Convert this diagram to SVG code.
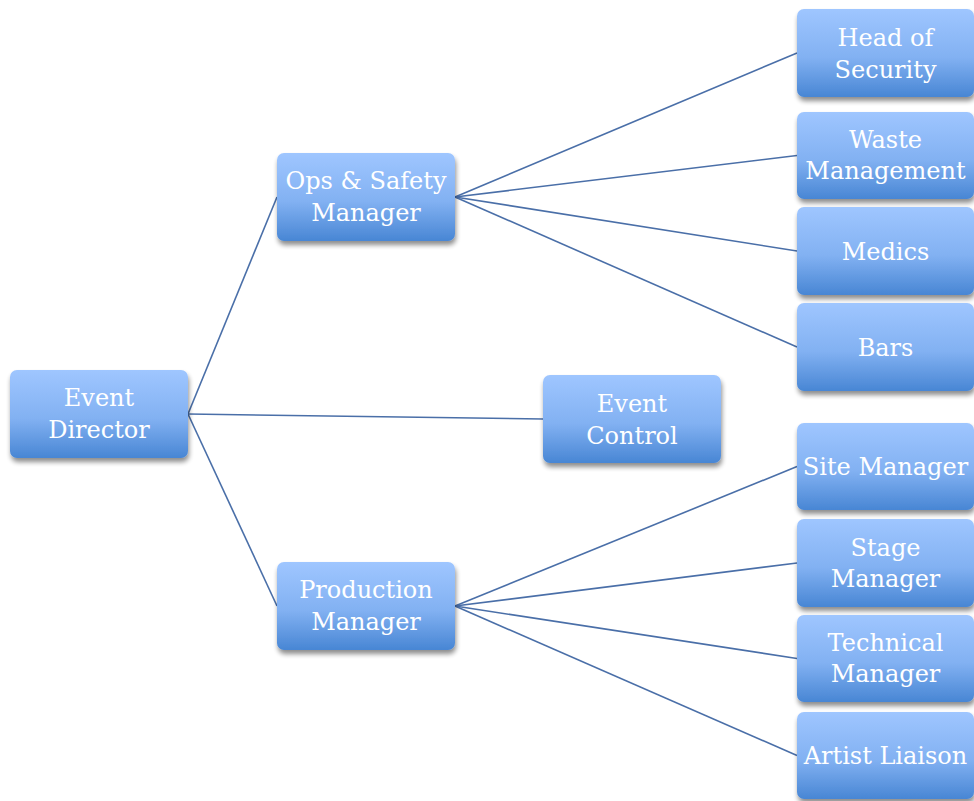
<svg xmlns="http://www.w3.org/2000/svg" width="974" height="801" viewBox="0 0 974 801">
<defs>
<linearGradient id="g" x1="0" y1="0" x2="0" y2="1">
<stop offset="0" stop-color="#9fc6ff"/>
<stop offset="0.55" stop-color="#82b1f2"/>
<stop offset="1" stop-color="#4886d4"/>
</linearGradient>
<filter id="sh" x="-10%" y="-10%" width="125%" height="130%">
<feGaussianBlur in="SourceAlpha" stdDeviation="2.5"/>
<feOffset dx="1" dy="4" result="b"/>
<feComponentTransfer><feFuncA type="linear" slope="0.45"/></feComponentTransfer>
<feMerge><feMergeNode/><feMergeNode in="SourceGraphic"/></feMerge>
</filter>
</defs>
<style>
.box{fill:url(#g);filter:url(#sh)}
.t{font-family:"DejaVu Serif","Liberation Serif",serif;font-size:24px;fill:#ffffff;text-anchor:middle}
.c{stroke:#4a6fa8;stroke-width:1.6;fill:none}
</style>
<rect width="974" height="801" fill="#ffffff"/>
<g id="connectors">
<line class="c" x1="188" y1="414" x2="277" y2="197"/>
<line class="c" x1="188" y1="414" x2="543" y2="419"/>
<line class="c" x1="188" y1="414" x2="277" y2="606"/>
<line class="c" x1="455" y1="197" x2="797" y2="53"/>
<line class="c" x1="455" y1="197" x2="797" y2="155.5"/>
<line class="c" x1="455" y1="197" x2="797" y2="251"/>
<line class="c" x1="455" y1="197" x2="797" y2="347"/>
<line class="c" x1="455" y1="606" x2="797" y2="466.5"/>
<line class="c" x1="455" y1="606" x2="797" y2="563"/>
<line class="c" x1="455" y1="606" x2="797" y2="658.5"/>
<line class="c" x1="455" y1="606" x2="797" y2="755.5"/>
</g>
<g id="event-director"><rect class="box" x="10" y="370" width="178" height="88" rx="7"/><text class="t" x="99" y="406">Event</text><text class="t" x="99" y="438">Director</text></g>
<g id="ops-safety"><rect class="box" x="277" y="153" width="178" height="88" rx="7"/><text class="t" x="366" y="189">Ops &amp; Safety</text><text class="t" x="366" y="221">Manager</text></g>
<g id="production"><rect class="box" x="277" y="562" width="178" height="88" rx="7"/><text class="t" x="366" y="598">Production</text><text class="t" x="366" y="630">Manager</text></g>
<g id="event-control"><rect class="box" x="543" y="375" width="178" height="88" rx="7"/><text class="t" x="632" y="412">Event</text><text class="t" x="632" y="444">Control</text></g>
<g id="head-security"><rect class="box" x="797" y="9" width="177" height="88" rx="7"/><text class="t" x="885.5" y="46">Head of</text><text class="t" x="885.5" y="78">Security</text></g>
<g id="waste"><rect class="box" x="797" y="112" width="177" height="87" rx="7"/><text class="t" x="885.5" y="148">Waste</text><text class="t" x="885.5" y="179">Management</text></g>
<g id="medics"><rect class="box" x="797" y="207" width="177" height="88" rx="7"/><text class="t" x="885.5" y="260">Medics</text></g>
<g id="bars"><rect class="box" x="797" y="303" width="177" height="88" rx="7"/><text class="t" x="885.5" y="356">Bars</text></g>
<g id="site"><rect class="box" x="797" y="423" width="177" height="87" rx="7"/><text class="t" x="885.5" y="475">Site Manager</text></g>
<g id="stage"><rect class="box" x="797" y="519" width="177" height="88" rx="7"/><text class="t" x="885.5" y="556">Stage</text><text class="t" x="885.5" y="587">Manager</text></g>
<g id="technical"><rect class="box" x="797" y="615" width="177" height="87" rx="7"/><text class="t" x="885.5" y="651">Technical</text><text class="t" x="885.5" y="682">Manager</text></g>
<g id="artist"><rect class="box" x="797" y="712" width="177" height="87" rx="7"/><text class="t" x="885.5" y="764">Artist Liaison</text></g>
</svg>
